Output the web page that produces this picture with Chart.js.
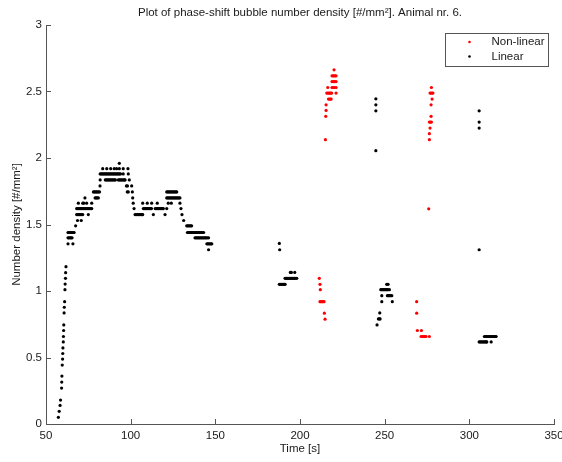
<!DOCTYPE html>
<html>
<head>
<meta charset="utf-8">
<script src="https://cdn.jsdelivr.net/npm/chart.js@4.4.1/dist/chart.umd.min.js"></script>
<style>
  html, body { margin: 0; padding: 0; background: #ffffff; }
  #wrap { width: 562px; height: 462px; position: relative; }
</style>
</head>
<body>
<div id="wrap"><canvas id="chart" width="562" height="462"></canvas></div>
<script>
// Axis ticks
const timeTicks = [50, 100, 150, 200, 250, 300, 350];
const densityTicks = [0, 0.5, 1, 1.5, 2, 2.5, 3];

// Each row: [number density, [times in s]]
const linearRise = [
  [0.05, [57.3]], [0.095, [57.8]], [0.14, [58.3]], [0.18, [58.6]],
  [0.27, [59.2]], [0.315, [59.3]], [0.36, [59.4]],
  [0.443, [59.6]], [0.488, [59.8]], [0.53, [59.9]], [0.572, [60.0]],
  [0.617, [60.2]], [0.658, [60.3]], [0.703, [60.4]], [0.745, [60.5]],
  [0.835, [60.7]], [0.878, [60.8]], [0.92, [61.0]],
  [1.01, [61.2]], [1.052, [61.3]], [1.095, [61.5]], [1.138, [61.6]], [1.183, [61.8]]
];

const linearHump = [
  [1.96, [93.3]],
  [1.92, [83.5, 85.9, 88.2, 90.3, 91.7, 93.3, 95.6, 98.4]],
  [1.88, [82.0, 82.6, 83.2, 83.8, 84.4, 85.0, 85.6, 86.2, 86.8, 87.4, 88.0, 88.6, 89.2, 89.8,
          90.4, 91.0, 91.6, 92.2, 92.8, 93.4, 94.0, 95.6, 98.6]],
  [1.835, [82.0, 85.0, 85.6, 86.2, 86.8, 87.4, 88.0, 88.6, 89.2, 89.8, 90.4, 91.0,
           92.7, 93.3, 93.9, 94.5, 95.1, 95.7, 96.3, 96.7, 99.2]],
  [1.79, [81.9, 97.5, 98.1, 100.6]],
  [1.745, [78.0, 78.6, 79.2, 79.8, 80.4, 81.0, 81.6, 98.0, 98.6, 101.0,
           121.3, 121.9, 122.5, 123.1, 123.7, 124.3, 124.9, 125.5, 126.1, 126.7, 127.2]],
  [1.70, [73.0, 79.0, 79.6, 80.2, 80.9, 101.2,
          121.3, 121.9, 122.5, 123.1, 123.7, 124.3, 124.9, 125.5, 126.1, 126.7, 127.3, 127.9, 128.5, 129.1]],
  [1.66, [69.1, 71.7, 72.3, 74.0, 77.0, 101.5, 107.1, 109.8, 112.4, 115.7, 122.2, 124.0, 129.1]],
  [1.62, [68.1, 68.7, 69.3, 69.9, 70.5, 71.1, 71.7, 72.3, 72.9, 73.5, 74.1, 74.7, 75.3, 75.9, 76.5, 77.0,
          102.0, 107.5, 108.1, 108.7, 109.3, 109.9, 110.5, 111.1, 111.7, 112.3,
          114.5, 115.1, 115.7, 116.3, 116.9, 117.5, 118.1, 118.7, 119.3, 121.3, 129.7]],
  [1.575, [68.1, 68.7, 69.3, 69.9, 70.5, 71.1, 71.7, 75.0,
           102.6, 103.2, 103.8, 104.4, 105.0, 105.6, 106.2, 106.8, 107.1, 113.4, 120.3, 130.3]],
  [1.53, [68.6, 70.8, 131.3]],
  [1.49, [67.5, 133.1, 133.7, 134.3, 134.9, 135.5, 136.0]],
  [1.44, [63.0, 63.6, 64.2, 64.8, 65.4, 66.0, 66.6,
          133.5, 134.1, 134.7, 135.3, 135.9, 136.5, 137.1, 137.7, 138.3, 138.9, 139.5, 140.1,
          140.7, 141.3, 141.9, 142.5, 143.1]],
  [1.40, [63.0, 63.6, 64.2, 64.8, 65.4,
          138.0, 138.6, 139.2, 139.8, 140.4, 141.0, 141.6, 142.2, 142.8, 143.4, 144.0, 144.6, 145.2, 146.0]],
  [1.355, [63.0, 65.9, 145.0, 145.6, 146.2, 146.8, 147.4, 147.9]],
  [1.31, [146.0]]
];

const linearLate = [
  [2.445, [244.8]], [2.40, [244.8]], [2.355, [244.8, 305.8]], [2.27, [305.8]], [2.225, [305.8]],
  [2.055, [244.8]],
  [1.358, [187.8]], [1.31, [188.0, 305.8]],
  [1.14, [194.3, 194.9, 196.9]],
  [1.095, [191.2, 191.8, 192.4, 193.0, 193.6, 194.2, 194.8, 195.4, 196.0, 196.6, 197.2, 198.1]],
  [1.05, [187.8, 188.4, 189.0, 189.6, 190.2, 190.8, 191.2, 251.2, 252.0]],
  [1.01, [247.7, 248.3, 248.9, 249.5, 250.1, 250.7, 251.3, 251.9, 252.8]],
  [0.965, [248.3, 251.6, 252.2, 252.8, 253.5, 254.2]],
  [0.92, [248.3, 254.5]],
  [0.835, [247.1]],
  [0.79, [246.3, 246.9, 247.3]],
  [0.745, [245.5]],
  [0.658, [308.9, 309.5, 310.1, 310.7, 311.3, 311.9, 312.5, 313.1, 313.7, 314.3, 314.9, 315.5, 315.8]],
  [0.617, [305.8, 306.4, 307.0, 307.6, 308.2, 308.8, 309.4, 310.0, 310.3, 312.9]]
];

const nonlinearRows = [
  [2.663, [220.1]],
  [2.618, [218.9, 219.5, 220.1, 220.7, 221.3]],
  [2.575, [218.9, 219.7, 220.5, 221.3]],
  [2.53, [216.4, 218.9, 219.6, 220.3, 221.3, 277.6]],
  [2.488, [215.8, 216.4, 217.0, 217.6, 218.2, 218.7, 221.3, 276.8, 277.4, 278.0, 278.5]],
  [2.443, [216.8, 217.4, 218.0, 218.4, 278.0]],
  [2.40, [215.4, 277.4]],
  [2.358, [215.4]],
  [2.313, [215.2, 277.4]],
  [2.27, [276.4, 277.0, 277.6]],
  [2.225, [276.8]],
  [2.183, [276.4]],
  [2.138, [215.0, 276.4]],
  [1.618, [276.0]],
  [1.095, [211.4]],
  [1.05, [211.8]],
  [1.01, [212.0]],
  [0.92, [211.8, 212.4, 213.0, 213.6, 214.2, 268.9]],
  [0.833, [214.4, 268.9]],
  [0.788, [214.8]],
  [0.703, [269.3, 271.7]],
  [0.658, [271.5, 272.1, 272.7, 273.3, 273.9, 274.4, 276.4]]
];

function toPoints(rows) {
  const pts = [];
  rows.forEach(([density, times]) => times.forEach(t => pts.push({ x: t, y: density })));
  return pts;
}

const linearPoints = toPoints(linearRise).concat(toPoints(linearHump), toPoints(linearLate));
const nonlinearPoints = toPoints(nonlinearRows);

const axisColor = '#555555';
const textColor = '#1a1a1a';
const fontFamily = "'Liberation Sans', Arial, Helvetica, sans-serif";
const fontSize = 11.5;

Chart.defaults.font.family = fontFamily;
Chart.defaults.font.size = fontSize;
Chart.defaults.color = textColor;

// Title, boxed legend and inward tick marks
const figureDecor = {
  id: 'figureDecor',
  afterDraw(chart) {
    const { ctx, chartArea: a, scales } = chart;
    ctx.save();

    // inward tick marks
    ctx.strokeStyle = axisColor;
    ctx.lineWidth = 1;
    ctx.beginPath();
    scales.x.ticks.forEach(t => {
      const px = Math.round(scales.x.getPixelForValue(t.value)) + 0.5;
      ctx.moveTo(px, a.bottom);
      ctx.lineTo(px, a.bottom - 5);
    });
    scales.y.ticks.forEach(t => {
      const py = Math.round(scales.y.getPixelForValue(t.value)) + 0.5;
      ctx.moveTo(a.left, py);
      ctx.lineTo(a.left + 5, py);
    });
    ctx.stroke();

    // title
    ctx.fillStyle = textColor;
    ctx.font = fontSize + 'px ' + fontFamily;
    ctx.textAlign = 'center';
    ctx.textBaseline = 'middle';
    ctx.fillText('Plot of phase-shift bubble number density [#/mm\u00B2]. Animal nr. 6.', (a.left + a.right) / 2, 13);

    // legend box
    const bw = 103, bh = 33;
    const bx = Math.round(a.right - 6 - bw) + 0.5;
    const by = Math.round(a.top + 8) + 0.5;
    ctx.fillStyle = '#ffffff';
    ctx.fillRect(bx, by, bw, bh);
    ctx.strokeStyle = axisColor;
    ctx.strokeRect(bx, by, bw, bh);
    chart.data.datasets.forEach((ds, i) => {
      const cy = by + 8.5 + i * 14.5;
      ctx.fillStyle = ds.backgroundColor;
      ctx.beginPath();
      ctx.arc(bx + 24, cy, 1.3, 0, Math.PI * 2);
      ctx.fill();
      ctx.fillStyle = textColor;
      ctx.textAlign = 'left';
      ctx.fillText(ds.label, bx + 46, cy);
    });
    ctx.restore();
  }
};

new Chart(document.getElementById('chart'), {
  type: 'scatter',
  data: {
    datasets: [
      {
        label: 'Non-linear',
        data: nonlinearPoints,
        backgroundColor: '#ff0000',
        borderColor: '#ff0000',
        borderWidth: 0,
        pointRadius: 1.6,
        pointHoverRadius: 1.6
      },
      {
        label: 'Linear',
        data: linearPoints,
        backgroundColor: '#000000',
        borderColor: '#000000',
        borderWidth: 0,
        pointRadius: 1.6,
        pointHoverRadius: 1.6
      }
    ]
  },
  options: {
    responsive: false,
    animation: false,
    events: [],
    layout: { autoPadding: false, padding: { top: 25, right: 8, left: 0, bottom: 0 } },
    plugins: {
      legend: { display: false },
      title: { display: false },
      tooltip: { enabled: false }
    },
    scales: {
      x: {
        type: 'linear',
        min: 50,
        max: 350,
        afterFit(scale) {
          scale.height = 38;
          scale.paddingLeft = 0;
          scale.paddingRight = 0;
        },
        afterBuildTicks(scale) { scale.ticks = timeTicks.map(v => ({ value: v })); },
        grid: { display: false, drawTicks: false },
        border: { display: true, color: axisColor, width: 1 },
        ticks: { padding: 5, color: textColor, maxRotation: 0, callback: v => String(v) },
        title: { display: true, text: 'Time [s]', color: textColor, padding: { top: 0, bottom: 6 } }
      },
      y: {
        type: 'linear',
        min: 0,
        max: 3,
        afterFit(scale) {
          scale.width = 46;
          scale.paddingTop = 0;
          scale.paddingBottom = 0;
        },
        afterBuildTicks(scale) { scale.ticks = densityTicks.map(v => ({ value: v })); },
        grid: { display: false, drawTicks: false },
        border: { display: true, color: axisColor, width: 1 },
        ticks: { padding: 4, color: textColor, callback: v => String(v) },
        title: { display: true, text: 'Number density [#/mm\u00B2]', color: textColor, padding: { top: 10, bottom: 0 } }
      }
    }
  },
  plugins: [figureDecor]
});
</script>
</body>
</html>
